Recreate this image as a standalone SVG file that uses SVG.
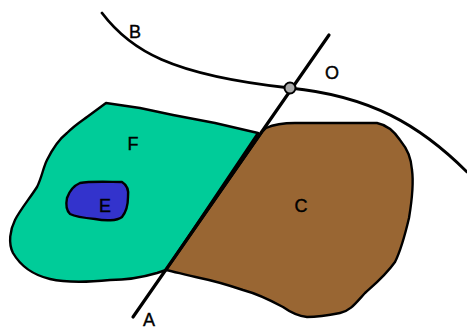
<svg xmlns="http://www.w3.org/2000/svg" width="467" height="329" viewBox="0 0 467 329">
<style>
.region{stroke:#000;stroke-width:2.4;stroke-linejoin:round}
.line{fill:none;stroke:#000;stroke-linecap:round}
.lbl{font-family:"Liberation Sans",Arial,sans-serif;font-size:18px;fill:#000;stroke:#000;stroke-width:0.4;text-anchor:middle;dominant-baseline:central}
</style>
<rect width="467" height="329" fill="#fff"/>
<g id="F">
<path class="region" fill="#00CC99" d="M106,103 L140,108 L173,115 L215,123 L258,133 L166,270 L157,273 C140,278 125,280 110,280 C90,282 67,283 50,279 C33,275 20,265 13,253 C8,243 10,230 15,220 C20,210 30,198 37,187 C42,177 43,168 47,160 C52,150 58,140 67,133 C75,125 83,120 87,117 Z"/>
<text class="lbl" x="133" y="144">F</text>
</g>
<g id="C">
<path class="region" fill="#996633" d="M262,132 L266,128 C275,124 285,123 295,123 L377,123 C387,125 394,131 400,140 C408,150 411,158 412,170 C414,185 412,200 409,218 C405,235 401,250 395,262 C385,276 375,284 365,293 C355,304 350,311 340,313 C325,316 315,317 307,317 C298,316 290,312 283,307 C270,300 258,294 243,290 C228,285 215,281 200,278 C185,275 176,272 166,270 Z"/>
<text class="lbl" x="301" y="206">C</text>
</g>
<g id="E">
<path class="region" fill="#3333CC" d="M67,198 C69,192 73,186 80,183 C90,181 110,182 122,182 C127,185 129,190 128,197 C128,205 126,212 122,217 C117,221 105,221 95,219 C85,218 76,217 70,214 C66,210 66,203 67,198 Z"/>
<text class="lbl" x="105" y="206">E</text>
</g>
<g id="connectors">
<path class="line" stroke-width="2.8" d="M102,13 C130,50 170,75 290,88 C370,96 420,125 467,172"/>
<path class="line" stroke-width="3.2" d="M329,35 L133,317"/>
</g>
<g id="O">
<circle cx="290" cy="88" r="5.5" fill="#aaaaaa" stroke="#000" stroke-width="2"/>
<text class="lbl" x="332" y="73">O</text>
</g>
<g id="B"><text class="lbl" x="135" y="32">B</text></g>
<g id="A"><text class="lbl" x="149" y="320">A</text></g>
</svg>
